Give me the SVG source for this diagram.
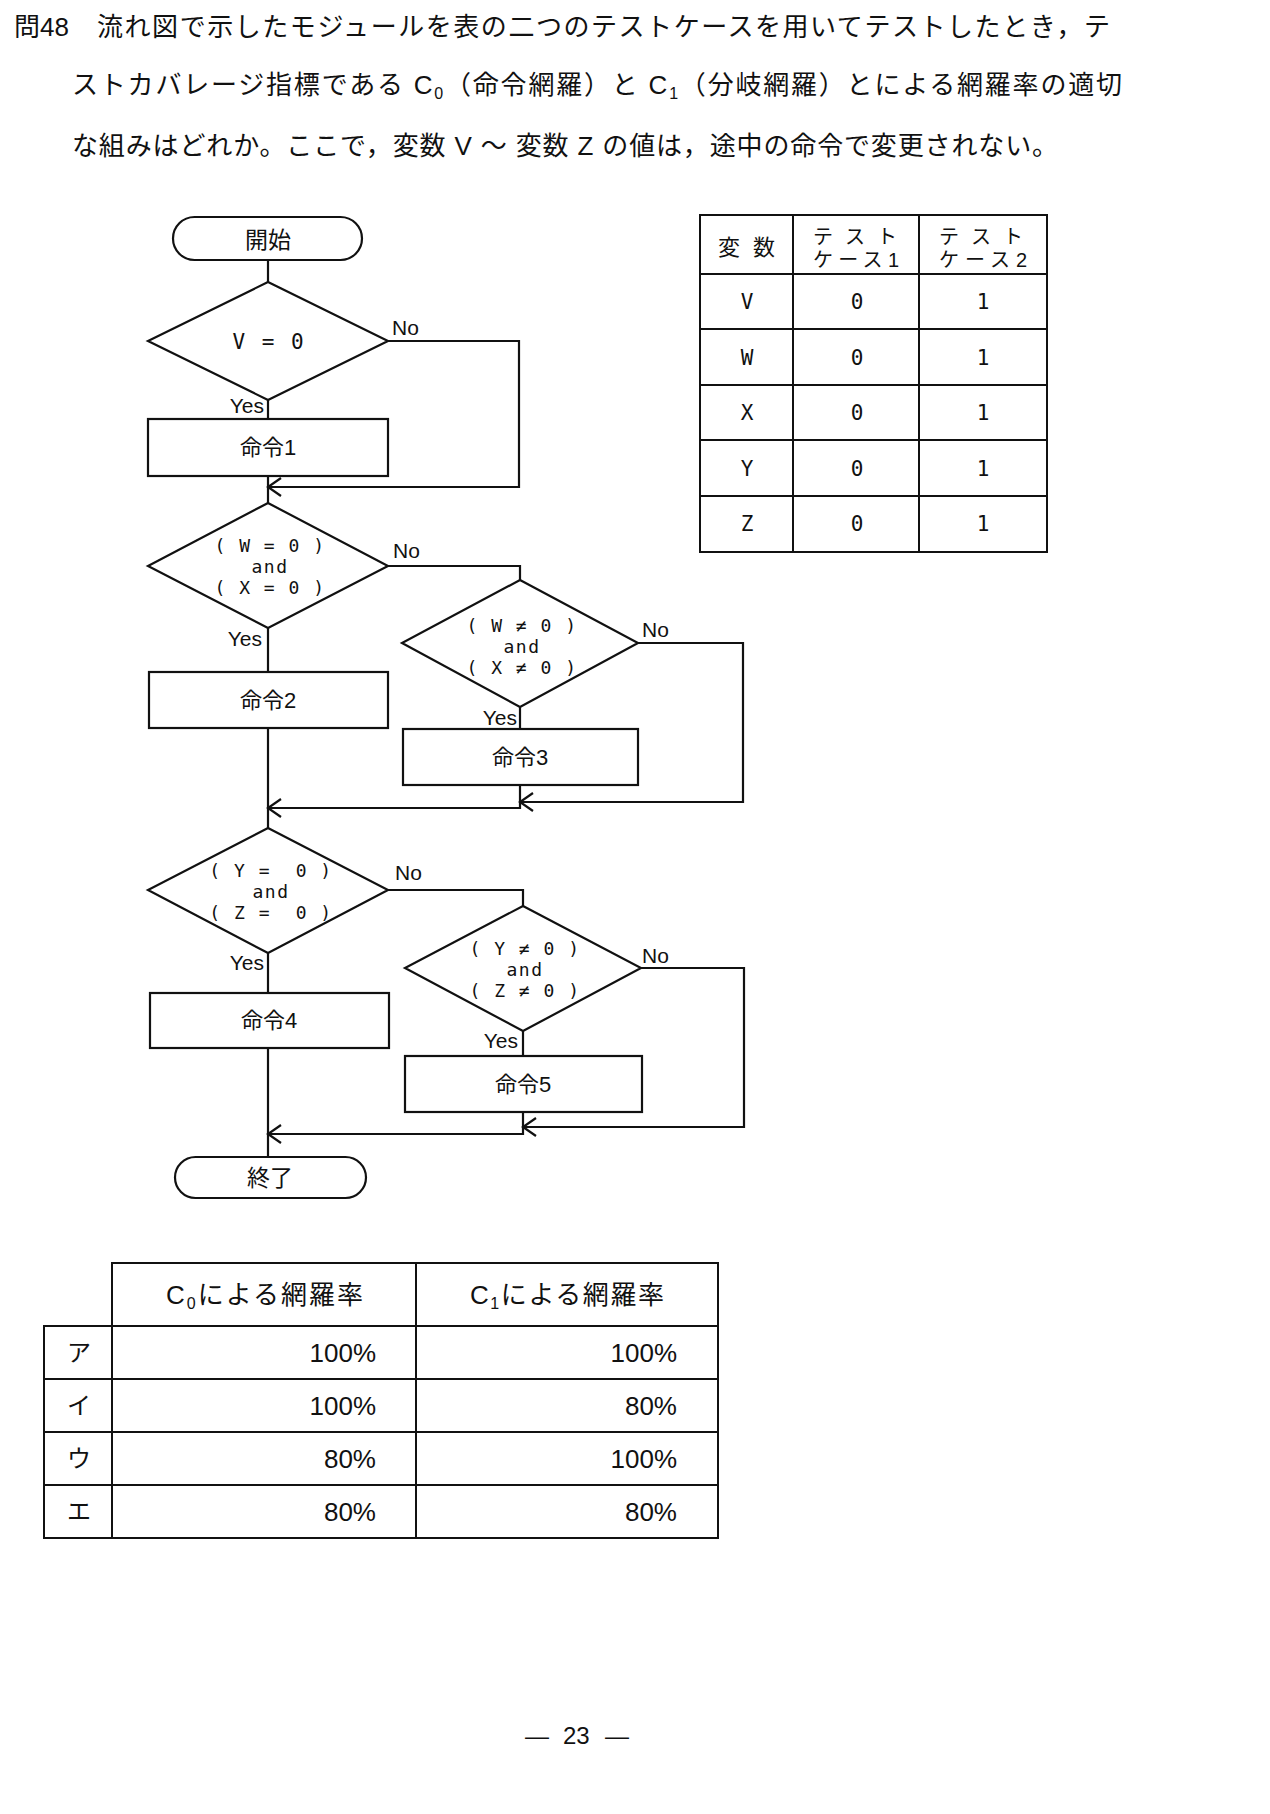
<svg xmlns="http://www.w3.org/2000/svg" width="1270" height="1814" viewBox="0 0 1270 1814">
<defs>
<style>
.ln{fill:none;stroke:#111;stroke-width:2.2}
.sh{fill:#fff;stroke:#111;stroke-width:2.2}
.tb{fill:none;stroke:#111;stroke-width:2}
.t{font-family:"Liberation Sans","Noto Sans CJK JP",sans-serif;fill:#111}
.jp{font-family:"Noto Sans CJK JP",sans-serif;fill:#111}
.m{font-family:"DejaVu Sans Mono","Liberation Mono",monospace;fill:#111;font-size:18px;letter-spacing:1.5px}
.c{text-anchor:middle}
.e{text-anchor:end}
.lbl{font-family:"Liberation Sans",sans-serif;font-size:21px;fill:#111}
.pre{white-space:pre}
.ttl{font-family:"Liberation Sans","Noto Sans CJK JP",sans-serif;font-size:26px;fill:#111}
.box{font-family:"Liberation Sans","Noto Sans CJK JP",sans-serif;font-size:22px;fill:#111;text-anchor:middle}
.cell{font-family:"DejaVu Sans Mono","Liberation Mono",monospace;font-size:21px;fill:#111;text-anchor:middle}
.pct{font-family:"Liberation Sans",sans-serif;font-size:26px;fill:#111;text-anchor:end}
</style>
<marker id="ah" markerUnits="userSpaceOnUse" markerWidth="30" markerHeight="30" refX="0" refY="0" viewBox="-15 -15 30 30" orient="auto" overflow="visible">
<path d="M-13,-9 L0,0 L-13,9" fill="none" stroke="#111" stroke-width="2.2"/>
</marker>
</defs>
<rect width="1270" height="1814" fill="#fff"/>

<g id="question">
<text class="ttl" x="14" y="36">問48</text>
<text class="ttl" x="97" y="36" textLength="1013" lengthAdjust="spacing">流れ図で示したモジュールを表の二つのテストケースを用いてテストしたとき，テ</text>
<text class="ttl" x="72" y="94" textLength="1050" lengthAdjust="spacing">ストカバレージ指標である C<tspan font-size="16" dy="5">0</tspan><tspan dy="-5">（命令網羅）と C</tspan><tspan font-size="16" dy="5">1</tspan><tspan dy="-5">（分岐網羅）とによる網羅率の適切</tspan></text>
<text class="ttl" x="72" y="155" textLength="986" lengthAdjust="spacing">な組みはどれか。ここで，変数 V ～ 変数 Z の値は，途中の命令で変更されない。</text>
</g>

<g id="connectors">
<path class="ln" d="M268,260 V282"/>
<path class="ln" d="M268,400 V419"/>
<path class="ln" d="M388,341 H519 V487 H268" marker-end="url(#ah)"/>
<path class="ln" d="M268,476 V503"/>
<path class="ln" d="M268,628 V672"/>
<path class="ln" d="M388,566 H520 V580"/>
<path class="ln" d="M520,707 V729"/>
<path class="ln" d="M638,643 H743 V802 H520" marker-end="url(#ah)"/>
<path class="ln" d="M520,785 V808 H268" marker-end="url(#ah)"/>
<path class="ln" d="M268,728 V828"/>
<path class="ln" d="M268,953 V993"/>
<path class="ln" d="M388,890 H523 V906"/>
<path class="ln" d="M523,1031 V1056"/>
<path class="ln" d="M641,968 H744 V1127 H523" marker-end="url(#ah)"/>
<path class="ln" d="M523,1112 V1134 H268" marker-end="url(#ah)"/>
<path class="ln" d="M268,1048 V1157"/>
</g>

<g id="start">
<rect class="sh" x="173" y="217" width="189" height="43" rx="21.5"/>
<text class="jp c" x="268" y="248" font-size="23">開始</text>
</g>

<g id="dec1">
<polygon class="sh" points="268,282 388,341 268,400 148,341"/>
<text class="m c pre" x="269" y="349" font-size="21" style="font-size:21px;letter-spacing:2px">V = 0</text>
<text class="lbl" x="392" y="335">No</text>
<text class="lbl e" x="264" y="413">Yes</text>
</g>

<g id="op1">
<rect class="sh" x="148" y="419" width="240" height="57"/>
<text class="box" x="268" y="455">命令1</text>
</g>

<g id="dec2">
<polygon class="sh" points="268,503 388,566 268,628 148,566"/>
<text class="m c pre" x="270" y="552">( W = 0 )</text>
<text class="m c" x="270" y="573">and</text>
<text class="m c pre" x="270" y="594">( X = 0 )</text>
<text class="lbl" x="393" y="558">No</text>
<text class="lbl e" x="262" y="646">Yes</text>
</g>

<g id="op2">
<rect class="sh" x="149" y="672" width="239" height="56"/>
<text class="box" x="268" y="708">命令2</text>
</g>

<g id="dec3">
<polygon class="sh" points="520,580 638,643 520,707 402,643"/>
<text class="m c pre" x="522" y="632">( W ≠ 0 )</text>
<text class="m c" x="522" y="653">and</text>
<text class="m c pre" x="522" y="674">( X ≠ 0 )</text>
<text class="lbl" x="642" y="637">No</text>
<text class="lbl e" x="517" y="725">Yes</text>
</g>

<g id="op3">
<rect class="sh" x="403" y="729" width="235" height="56"/>
<text class="box" x="520" y="765">命令3</text>
</g>

<g id="dec4">
<polygon class="sh" points="268,828 388,890 268,953 148,890"/>
<text class="m c pre" x="271" y="877">( Y =  0 )</text>
<text class="m c" x="271" y="898">and</text>
<text class="m c pre" x="271" y="919">( Z =  0 )</text>
<text class="lbl" x="395" y="880">No</text>
<text class="lbl e" x="264" y="970">Yes</text>
</g>

<g id="op4">
<rect class="sh" x="150" y="993" width="239" height="55"/>
<text class="box" x="269" y="1028">命令4</text>
</g>

<g id="dec5">
<polygon class="sh" points="523,906 641,968 523,1031 405,968"/>
<text class="m c pre" x="525" y="955">( Y ≠ 0 )</text>
<text class="m c" x="525" y="976">and</text>
<text class="m c pre" x="525" y="997">( Z ≠ 0 )</text>
<text class="lbl" x="642" y="963">No</text>
<text class="lbl e" x="518" y="1048">Yes</text>
</g>

<g id="op5">
<rect class="sh" x="405" y="1056" width="237" height="56"/>
<text class="box" x="523" y="1092">命令5</text>
</g>

<g id="end">
<rect class="sh" x="175" y="1157" width="191" height="41" rx="20.5"/>
<text class="jp c" x="270" y="1186" font-size="23">終了</text>
</g>

<g id="testcases">
<rect class="tb" x="700" y="215" width="347" height="337"/>
<path class="tb" d="M793,215 V552 M919,215 V552 M700,274 H1047 M700,329 H1047 M700,385 H1047 M700,440 H1047 M700,496 H1047"/>
<text class="jp" x="718" y="255" font-size="22" textLength="57" lengthAdjust="spacing">変 数</text>
<text class="jp" x="813" y="244" font-size="20" textLength="84" lengthAdjust="spacing">テスト</text>
<text class="t" x="813" y="267" font-size="20" textLength="86" lengthAdjust="spacing">ケース1</text>
<text class="jp" x="939" y="244" font-size="20" textLength="84" lengthAdjust="spacing">テスト</text>
<text class="t" x="939" y="267" font-size="20" textLength="88" lengthAdjust="spacing">ケース2</text>
<text class="cell" x="747" y="309">V</text><text class="cell" x="857" y="309">0</text><text class="cell" x="983" y="309">1</text>
<text class="cell" x="747" y="365">W</text><text class="cell" x="857" y="365">0</text><text class="cell" x="983" y="365">1</text>
<text class="cell" x="747" y="420">X</text><text class="cell" x="857" y="420">0</text><text class="cell" x="983" y="420">1</text>
<text class="cell" x="747" y="476">Y</text><text class="cell" x="857" y="476">0</text><text class="cell" x="983" y="476">1</text>
<text class="cell" x="747" y="531">Z</text><text class="cell" x="857" y="531">0</text><text class="cell" x="983" y="531">1</text>
</g>

<g id="answers">
<path class="tb" d="M112,1326 V1263 H718 V1538 H44 V1326 H718 M416,1263 V1538 M112,1326 V1538 M44,1379 H718 M44,1432 H718 M44,1485 H718"/>
<text class="t" x="166" y="1304" font-size="26" textLength="197" lengthAdjust="spacing">C<tspan font-size="16" dy="5">0</tspan><tspan dy="-5">による網羅率</tspan></text>
<text class="t" x="470" y="1304" font-size="26" textLength="194" lengthAdjust="spacing">C<tspan font-size="16" dy="5">1</tspan><tspan dy="-5">による網羅率</tspan></text>
<text class="jp c" x="79" y="1361" font-size="24">ア</text>
<text class="jp c" x="79" y="1414" font-size="24">イ</text>
<text class="jp c" x="79" y="1467" font-size="24">ウ</text>
<text class="jp c" x="79" y="1520" font-size="24">エ</text>
<text class="pct" x="376" y="1362">100%</text><text class="pct" x="677" y="1362">100%</text>
<text class="pct" x="376" y="1415">100%</text><text class="pct" x="677" y="1415">80%</text>
<text class="pct" x="376" y="1468">80%</text><text class="pct" x="677" y="1468">100%</text>
<text class="pct" x="376" y="1521">80%</text><text class="pct" x="677" y="1521">80%</text>
</g>

<g id="page">
<text class="t" y="1744" font-size="24"><tspan x="525">—</tspan><tspan x="563">23</tspan><tspan x="605">—</tspan></text>
</g>
</svg>
